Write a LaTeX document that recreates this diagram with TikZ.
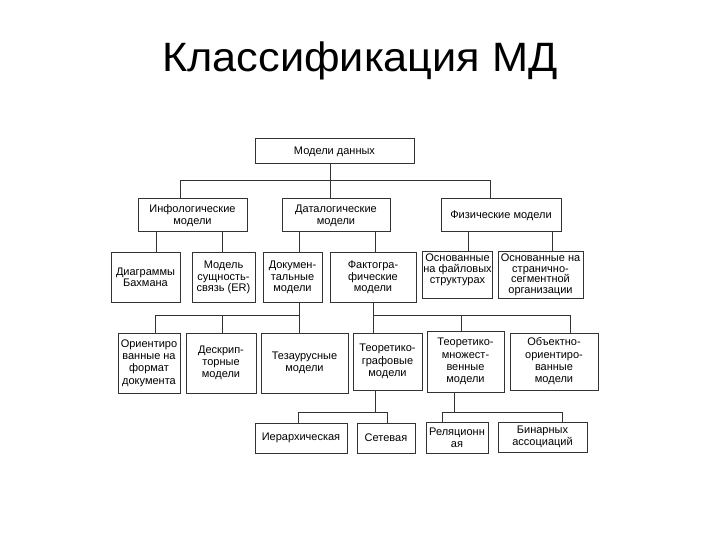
\documentclass[tikz,border=0pt]{standalone}
\usepackage{fontspec}
\setmainfont{Liberation Sans}
\begin{document}
\begin{tikzpicture}[x=1bp,y=-1bp,
  box/.style={draw=black!80, line width=1bp, fill=white, inner sep=1bp, align=center,
    font=\fontsize{11bp}{12.3bp}\selectfont},
  tight/.style={font=\fontsize{11bp}{11.3bp}\selectfont},
  tighter/.style={font=\fontsize{11bp}{10.6bp}\selectfont},
  conn/.style={draw=black!80, line width=1bp}]
\useasboundingbox[fill=white] (0,0) rectangle (720,540);
\node[anchor=base, font=\fontsize{41bp}{44bp}\selectfont] (title) at (360,72) {\scalebox{1.055}[1]{Классификация МД}};
% level 1
\node[box, minimum width=159bp, minimum height=25bp] (top) at (334.5,151.5) {Модели данных};
% level 2
\node[box, minimum width=109bp, minimum height=33bp] (info) at (192.5,215.5) {Инфологические\\модели};
\node[box, minimum width=108bp, minimum height=33bp] (data) at (336,215.5) {Даталогические\\модели};
\node[box, minimum width=120bp, minimum height=33bp] (phys) at (501,215.5) {Физические модели};
% level 3
\node[box, tight, minimum width=69bp, minimum height=49bp] (diag) at (145.5,277.5) {Диаграммы\\Бахмана};
\node[box, tight, minimum width=63bp, minimum height=49bp] (er) at (223.5,277.5) {Модель\\сущность-\\связь (ER)};
\node[box, tight, minimum width=59bp, minimum height=49bp] (doc) at (292.5,277.5) {Докумен-\\тальные\\модели};
\node[box, tight, minimum width=86bp, minimum height=49bp] (fact) at (373,277.5) {Фактогра-\\фические\\модели};
\node[box, tighter, minimum width=69bp, minimum height=46bp] (file) at (457.5,275) {Основанные\\на файловых\\структурах\\[2bp]\mbox{}};
\node[box, tighter, minimum width=85bp, minimum height=46bp] (page) at (540.5,275) {Основанные на\\странично-\\сегментной\\организации};
% level 4
\node[box, minimum width=62bp, minimum height=60bp] (orient) at (149,363) {Ориентиро\\ванные на\\формат\\документа};
\node[box, minimum width=70bp, minimum height=60bp] (descr) at (221,363) {Дескрип-\\торные\\модели};
\node[box, minimum width=87bp, minimum height=60bp] (thes) at (304.5,363) {Тезаурусные\\модели};
\node[box, minimum width=69bp, minimum height=57bp] (graph) at (387.5,361.5) {Теоретико-\\графовые\\модели};
\node[box, minimum width=77bp, minimum height=61bp] (set) at (465.5,361.5) {Теоретико-\\множест-\\венные\\модели};
\node[box, minimum width=88bp, minimum height=57bp] (obj) at (554,361.5) {Объектно-\\ориентиро-\\ванные\\модели};
% level 5
\node[box, minimum width=92bp, minimum height=30bp] (hier) at (301,438) {Иерархическая};
\node[box, minimum width=58bp, minimum height=30bp] (net) at (386,438) {Сетевая};
\node[box, minimum width=62bp, minimum height=31bp] (rel) at (457,437.5) {Реляционн\\ая};
\node[box, minimum width=89bp, minimum height=30bp] (bin) at (542.5,437) {Бинарных\\ассоциаций};
% connectors level 1
\draw[conn] (top.south -| 330,0) -- (330,181);
\draw[conn] (info.north -| 180,0) -- (180,181) -- (490,181) -- (phys.north -| 490,0);
\draw[conn] (330,181) -- (data.north -| 330,0);
% level 2
\draw[conn] (info.south -| 156,0) -- (diag.north -| 156,0);
\draw[conn] (info.south -| 222,0) -- (er.north -| 222,0);
\draw[conn] (data.south -| 299,0) -- (doc.north -| 299,0);
\draw[conn] (data.south -| 375,0) -- (fact.north -| 375,0);
\draw[conn] (phys.south -| 468,0) -- (file.north -| 468,0);
\draw[conn] (phys.south -| 552,0) -- (page.north -| 552,0);
% level 3
\draw[conn] (doc.south -| 299,0) -- (299,315) -- (155,315) -- (orient.north -| 155,0);
\draw[conn] (222,315) -- (descr.north -| 222,0);
\draw[conn] (299,315) -- (thes.north -| 299,0);
\draw[conn] (fact.south -| 373,0) -- (373,315) -- (570,315) -- (obj.north -| 570,0);
\draw[conn] (373,315) -- (graph.north -| 373,0);
\draw[conn] (461,315) -- (set.north -| 461,0);
% level 4
\draw[conn] (graph.south -| 375,0) -- (375,412) -- (298,412) -- (hier.north -| 298,0);
\draw[conn] (375,412) -- (387,412) -- (net.north -| 387,0);
\draw[conn] (set.south -| 454,0) -- (454,412) -- (442,412) -- (rel.north -| 442,0);
\draw[conn] (454,412) -- (562,412) -- (bin.north -| 562,0);
\end{tikzpicture}
\end{document}
